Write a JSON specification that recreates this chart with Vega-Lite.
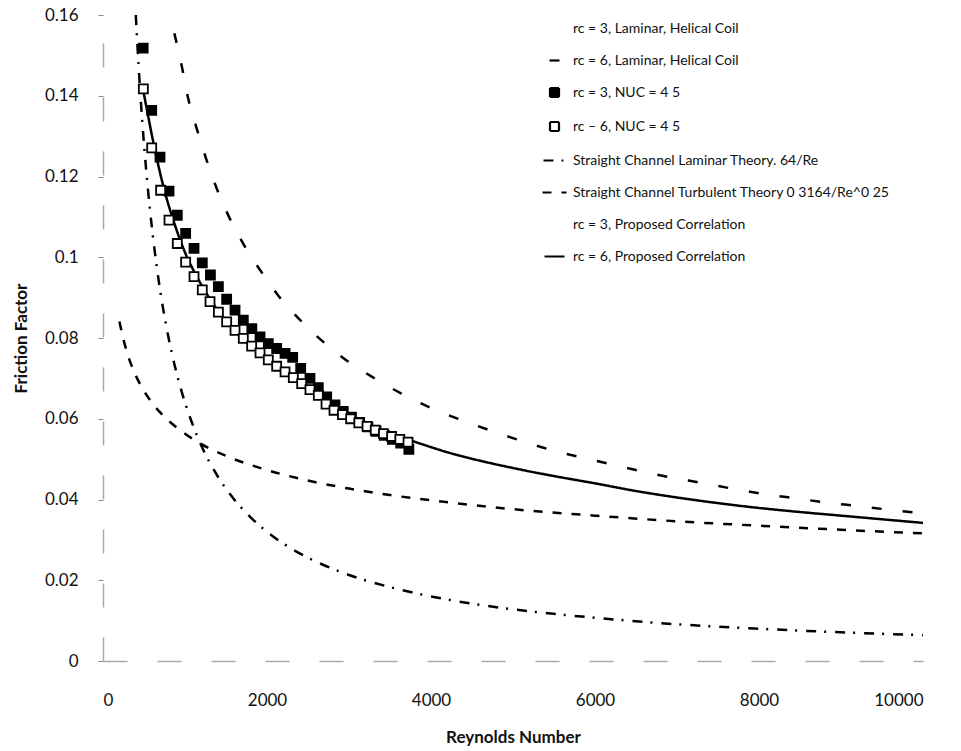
{
  "$schema": "https://vega.github.io/schema/vega-lite/v6.json",
  "width": 820,
  "height": 646,
  "autosize": "none",
  "padding": {"left": 103, "top": 15, "right": 38, "bottom": 90},
  "background": "white",
  "datasets": {
    "lines": [
      {"series": "rc = 6, Laminar, Helical Coil", "Re": 870, "f": 0.1555},
      {"series": "rc = 6, Laminar, Helical Coil", "Re": 964, "f": 0.147},
      {"series": "rc = 6, Laminar, Helical Coil", "Re": 1037, "f": 0.1395},
      {"series": "rc = 6, Laminar, Helical Coil", "Re": 1134, "f": 0.1325},
      {"series": "rc = 6, Laminar, Helical Coil", "Re": 1256, "f": 0.1245},
      {"series": "rc = 6, Laminar, Helical Coil", "Re": 1378, "f": 0.1175},
      {"series": "rc = 6, Laminar, Helical Coil", "Re": 1537, "f": 0.1100},
      {"series": "rc = 6, Laminar, Helical Coil", "Re": 1720, "f": 0.1030},
      {"series": "rc = 6, Laminar, Helical Coil", "Re": 1927, "f": 0.0965},
      {"series": "rc = 6, Laminar, Helical Coil", "Re": 2146, "f": 0.0903},
      {"series": "rc = 6, Laminar, Helical Coil", "Re": 2402, "f": 0.0845},
      {"series": "rc = 6, Laminar, Helical Coil", "Re": 2683, "f": 0.0791},
      {"series": "rc = 6, Laminar, Helical Coil", "Re": 2988, "f": 0.0742},
      {"series": "rc = 6, Laminar, Helical Coil", "Re": 3305, "f": 0.0701},
      {"series": "rc = 6, Laminar, Helical Coil", "Re": 3634, "f": 0.0663},
      {"series": "rc = 6, Laminar, Helical Coil", "Re": 3976, "f": 0.0629},
      {"series": "rc = 6, Laminar, Helical Coil", "Re": 4329, "f": 0.0600},
      {"series": "rc = 6, Laminar, Helical Coil", "Re": 4695, "f": 0.0573},
      {"series": "rc = 6, Laminar, Helical Coil", "Re": 5061, "f": 0.0548},
      {"series": "rc = 6, Laminar, Helical Coil", "Re": 5427, "f": 0.0525},
      {"series": "rc = 6, Laminar, Helical Coil", "Re": 5793, "f": 0.0506},
      {"series": "rc = 6, Laminar, Helical Coil", "Re": 6159, "f": 0.0489},
      {"series": "rc = 6, Laminar, Helical Coil", "Re": 6537, "f": 0.0471},
      {"series": "rc = 6, Laminar, Helical Coil", "Re": 6915, "f": 0.0455},
      {"series": "rc = 6, Laminar, Helical Coil", "Re": 7305, "f": 0.0441},
      {"series": "rc = 6, Laminar, Helical Coil", "Re": 7671, "f": 0.0427},
      {"series": "rc = 6, Laminar, Helical Coil", "Re": 8049, "f": 0.0414},
      {"series": "rc = 6, Laminar, Helical Coil", "Re": 8439, "f": 0.0403},
      {"series": "rc = 6, Laminar, Helical Coil", "Re": 8805, "f": 0.0393},
      {"series": "rc = 6, Laminar, Helical Coil", "Re": 9195, "f": 0.0384},
      {"series": "rc = 6, Laminar, Helical Coil", "Re": 9573, "f": 0.0375},
      {"series": "rc = 6, Laminar, Helical Coil", "Re": 10000, "f": 0.0366},

      {"series": "Straight Channel Laminar Theory. 64/Re", "Re": 400, "f": 0.16},
      {"series": "Straight Channel Laminar Theory. 64/Re", "Re": 420, "f": 0.1524},
      {"series": "Straight Channel Laminar Theory. 64/Re", "Re": 450, "f": 0.1422},
      {"series": "Straight Channel Laminar Theory. 64/Re", "Re": 480, "f": 0.1333},
      {"series": "Straight Channel Laminar Theory. 64/Re", "Re": 500, "f": 0.128},
      {"series": "Straight Channel Laminar Theory. 64/Re", "Re": 550, "f": 0.1164},
      {"series": "Straight Channel Laminar Theory. 64/Re", "Re": 600, "f": 0.1067},
      {"series": "Straight Channel Laminar Theory. 64/Re", "Re": 650, "f": 0.0985},
      {"series": "Straight Channel Laminar Theory. 64/Re", "Re": 700, "f": 0.0914},
      {"series": "Straight Channel Laminar Theory. 64/Re", "Re": 800, "f": 0.08},
      {"series": "Straight Channel Laminar Theory. 64/Re", "Re": 900, "f": 0.0711},
      {"series": "Straight Channel Laminar Theory. 64/Re", "Re": 1000, "f": 0.064},
      {"series": "Straight Channel Laminar Theory. 64/Re", "Re": 1100, "f": 0.0582},
      {"series": "Straight Channel Laminar Theory. 64/Re", "Re": 1200, "f": 0.0533},
      {"series": "Straight Channel Laminar Theory. 64/Re", "Re": 1400, "f": 0.0457},
      {"series": "Straight Channel Laminar Theory. 64/Re", "Re": 1600, "f": 0.04},
      {"series": "Straight Channel Laminar Theory. 64/Re", "Re": 1800, "f": 0.0356},
      {"series": "Straight Channel Laminar Theory. 64/Re", "Re": 2000, "f": 0.032},
      {"series": "Straight Channel Laminar Theory. 64/Re", "Re": 2300, "f": 0.0278},
      {"series": "Straight Channel Laminar Theory. 64/Re", "Re": 2600, "f": 0.0246},
      {"series": "Straight Channel Laminar Theory. 64/Re", "Re": 3000, "f": 0.0213},
      {"series": "Straight Channel Laminar Theory. 64/Re", "Re": 3500, "f": 0.0183},
      {"series": "Straight Channel Laminar Theory. 64/Re", "Re": 4000, "f": 0.016},
      {"series": "Straight Channel Laminar Theory. 64/Re", "Re": 4500, "f": 0.0142},
      {"series": "Straight Channel Laminar Theory. 64/Re", "Re": 5000, "f": 0.0128},
      {"series": "Straight Channel Laminar Theory. 64/Re", "Re": 6000, "f": 0.0107},
      {"series": "Straight Channel Laminar Theory. 64/Re", "Re": 7000, "f": 0.0091},
      {"series": "Straight Channel Laminar Theory. 64/Re", "Re": 8000, "f": 0.008},
      {"series": "Straight Channel Laminar Theory. 64/Re", "Re": 9000, "f": 0.0071},
      {"series": "Straight Channel Laminar Theory. 64/Re", "Re": 10000, "f": 0.0064},

      {"series": "Straight Channel Turbulent Theory 0 3164/Re^0 25", "Re": 200, "f": 0.0841},
      {"series": "Straight Channel Turbulent Theory 0 3164/Re^0 25", "Re": 250, "f": 0.0796},
      {"series": "Straight Channel Turbulent Theory 0 3164/Re^0 25", "Re": 300, "f": 0.0760},
      {"series": "Straight Channel Turbulent Theory 0 3164/Re^0 25", "Re": 400, "f": 0.0707},
      {"series": "Straight Channel Turbulent Theory 0 3164/Re^0 25", "Re": 500, "f": 0.0669},
      {"series": "Straight Channel Turbulent Theory 0 3164/Re^0 25", "Re": 600, "f": 0.0639},
      {"series": "Straight Channel Turbulent Theory 0 3164/Re^0 25", "Re": 700, "f": 0.0615},
      {"series": "Straight Channel Turbulent Theory 0 3164/Re^0 25", "Re": 800, "f": 0.0595},
      {"series": "Straight Channel Turbulent Theory 0 3164/Re^0 25", "Re": 1000, "f": 0.0563},
      {"series": "Straight Channel Turbulent Theory 0 3164/Re^0 25", "Re": 1200, "f": 0.0537},
      {"series": "Straight Channel Turbulent Theory 0 3164/Re^0 25", "Re": 1500, "f": 0.0508},
      {"series": "Straight Channel Turbulent Theory 0 3164/Re^0 25", "Re": 2000, "f": 0.0473},
      {"series": "Straight Channel Turbulent Theory 0 3164/Re^0 25", "Re": 2500, "f": 0.0447},
      {"series": "Straight Channel Turbulent Theory 0 3164/Re^0 25", "Re": 3000, "f": 0.0427},
      {"series": "Straight Channel Turbulent Theory 0 3164/Re^0 25", "Re": 3500, "f": 0.0411},
      {"series": "Straight Channel Turbulent Theory 0 3164/Re^0 25", "Re": 4000, "f": 0.0398},
      {"series": "Straight Channel Turbulent Theory 0 3164/Re^0 25", "Re": 5000, "f": 0.0376},
      {"series": "Straight Channel Turbulent Theory 0 3164/Re^0 25", "Re": 6000, "f": 0.0360},
      {"series": "Straight Channel Turbulent Theory 0 3164/Re^0 25", "Re": 7000, "f": 0.0346},
      {"series": "Straight Channel Turbulent Theory 0 3164/Re^0 25", "Re": 8000, "f": 0.0335},
      {"series": "Straight Channel Turbulent Theory 0 3164/Re^0 25", "Re": 9000, "f": 0.0325},
      {"series": "Straight Channel Turbulent Theory 0 3164/Re^0 25", "Re": 10000, "f": 0.0316},

      {"series": "rc = 6, Proposed Correlation", "Re": 490, "f": 0.1414},
      {"series": "rc = 6, Proposed Correlation", "Re": 550, "f": 0.1350},
      {"series": "rc = 6, Proposed Correlation", "Re": 650, "f": 0.1250},
      {"series": "rc = 6, Proposed Correlation", "Re": 750, "f": 0.1165},
      {"series": "rc = 6, Proposed Correlation", "Re": 880, "f": 0.1078},
      {"series": "rc = 6, Proposed Correlation", "Re": 1000, "f": 0.1012},
      {"series": "rc = 6, Proposed Correlation", "Re": 1150, "f": 0.0950},
      {"series": "rc = 6, Proposed Correlation", "Re": 1300, "f": 0.0898},
      {"series": "rc = 6, Proposed Correlation", "Re": 1500, "f": 0.0843},
      {"series": "rc = 6, Proposed Correlation", "Re": 1800, "f": 0.0782},
      {"series": "rc = 6, Proposed Correlation", "Re": 2000, "f": 0.0750},
      {"series": "rc = 6, Proposed Correlation", "Re": 2200, "f": 0.0722},
      {"series": "rc = 6, Proposed Correlation", "Re": 2400, "f": 0.0693},
      {"series": "rc = 6, Proposed Correlation", "Re": 2600, "f": 0.0665},
      {"series": "rc = 6, Proposed Correlation", "Re": 2800, "f": 0.0633},
      {"series": "rc = 6, Proposed Correlation", "Re": 3000, "f": 0.0608},
      {"series": "rc = 6, Proposed Correlation", "Re": 3300, "f": 0.0580},
      {"series": "rc = 6, Proposed Correlation", "Re": 3600, "f": 0.0556},
      {"series": "rc = 6, Proposed Correlation", "Re": 3800, "f": 0.0543},
      {"series": "rc = 6, Proposed Correlation", "Re": 4200, "f": 0.0517},
      {"series": "rc = 6, Proposed Correlation", "Re": 4600, "f": 0.0496},
      {"series": "rc = 6, Proposed Correlation", "Re": 5000, "f": 0.0478},
      {"series": "rc = 6, Proposed Correlation", "Re": 5500, "f": 0.0458},
      {"series": "rc = 6, Proposed Correlation", "Re": 6000, "f": 0.0440},
      {"series": "rc = 6, Proposed Correlation", "Re": 6500, "f": 0.0421},
      {"series": "rc = 6, Proposed Correlation", "Re": 7000, "f": 0.0405},
      {"series": "rc = 6, Proposed Correlation", "Re": 7500, "f": 0.0391},
      {"series": "rc = 6, Proposed Correlation", "Re": 8000, "f": 0.0379},
      {"series": "rc = 6, Proposed Correlation", "Re": 8500, "f": 0.0369},
      {"series": "rc = 6, Proposed Correlation", "Re": 9000, "f": 0.0360},
      {"series": "rc = 6, Proposed Correlation", "Re": 9500, "f": 0.0351},
      {"series": "rc = 6, Proposed Correlation", "Re": 10000, "f": 0.0342}
    ],
    "points": [
      {"series": "rc = 3, NUC = 4 5", "Re": 490, "f": 0.1518},
      {"series": "rc = 3, NUC = 4 5", "Re": 594, "f": 0.1364},
      {"series": "rc = 3, NUC = 4 5", "Re": 695, "f": 0.1248},
      {"series": "rc = 3, NUC = 4 5", "Re": 805, "f": 0.1164},
      {"series": "rc = 3, NUC = 4 5", "Re": 906, "f": 0.1104},
      {"series": "rc = 3, NUC = 4 5", "Re": 1008, "f": 0.1059},
      {"series": "rc = 3, NUC = 4 5", "Re": 1110, "f": 0.1022},
      {"series": "rc = 3, NUC = 4 5", "Re": 1211, "f": 0.0986},
      {"series": "rc = 3, NUC = 4 5", "Re": 1310, "f": 0.0956},
      {"series": "rc = 3, NUC = 4 5", "Re": 1407, "f": 0.0927},
      {"series": "rc = 3, NUC = 4 5", "Re": 1508, "f": 0.0896},
      {"series": "rc = 3, NUC = 4 5", "Re": 1610, "f": 0.0869},
      {"series": "rc = 3, NUC = 4 5", "Re": 1711, "f": 0.0844},
      {"series": "rc = 3, NUC = 4 5", "Re": 1815, "f": 0.0823},
      {"series": "rc = 3, NUC = 4 5", "Re": 1915, "f": 0.0803},
      {"series": "rc = 3, NUC = 4 5", "Re": 2016, "f": 0.0786},
      {"series": "rc = 3, NUC = 4 5", "Re": 2118, "f": 0.0774},
      {"series": "rc = 3, NUC = 4 5", "Re": 2220, "f": 0.0762},
      {"series": "rc = 3, NUC = 4 5", "Re": 2313, "f": 0.0752},
      {"series": "rc = 3, NUC = 4 5", "Re": 2411, "f": 0.0725},
      {"series": "rc = 3, NUC = 4 5", "Re": 2524, "f": 0.0700},
      {"series": "rc = 3, NUC = 4 5", "Re": 2626, "f": 0.0677},
      {"series": "rc = 3, NUC = 4 5", "Re": 2728, "f": 0.0654},
      {"series": "rc = 3, NUC = 4 5", "Re": 2829, "f": 0.0634},
      {"series": "rc = 3, NUC = 4 5", "Re": 2930, "f": 0.0618},
      {"series": "rc = 3, NUC = 4 5", "Re": 3030, "f": 0.0604},
      {"series": "rc = 3, NUC = 4 5", "Re": 3130, "f": 0.0591},
      {"series": "rc = 3, NUC = 4 5", "Re": 3230, "f": 0.0580},
      {"series": "rc = 3, NUC = 4 5", "Re": 3330, "f": 0.0569},
      {"series": "rc = 3, NUC = 4 5", "Re": 3430, "f": 0.0559},
      {"series": "rc = 3, NUC = 4 5", "Re": 3530, "f": 0.0549},
      {"series": "rc = 3, NUC = 4 5", "Re": 3630, "f": 0.0540},
      {"series": "rc = 3, NUC = 4 5", "Re": 3730, "f": 0.0524},

      {"series": "rc – 6, NUC = 4 5", "Re": 492, "f": 0.1417},
      {"series": "rc – 6, NUC = 4 5", "Re": 594, "f": 0.1271},
      {"series": "rc – 6, NUC = 4 5", "Re": 703, "f": 0.1166},
      {"series": "rc – 6, NUC = 4 5", "Re": 805, "f": 0.1092},
      {"series": "rc – 6, NUC = 4 5", "Re": 906, "f": 0.1034},
      {"series": "rc – 6, NUC = 4 5", "Re": 1008, "f": 0.0988},
      {"series": "rc – 6, NUC = 4 5", "Re": 1110, "f": 0.0952},
      {"series": "rc – 6, NUC = 4 5", "Re": 1211, "f": 0.0919},
      {"series": "rc – 6, NUC = 4 5", "Re": 1305, "f": 0.0890},
      {"series": "rc – 6, NUC = 4 5", "Re": 1407, "f": 0.0864},
      {"series": "rc – 6, NUC = 4 5", "Re": 1508, "f": 0.0840},
      {"series": "rc – 6, NUC = 4 5", "Re": 1610, "f": 0.0819},
      {"series": "rc – 6, NUC = 4 5", "Re": 1711, "f": 0.0799},
      {"series": "rc – 6, NUC = 4 5", "Re": 1813, "f": 0.0780},
      {"series": "rc – 6, NUC = 4 5", "Re": 1915, "f": 0.0763},
      {"series": "rc – 6, NUC = 4 5", "Re": 2016, "f": 0.0746},
      {"series": "rc – 6, NUC = 4 5", "Re": 2118, "f": 0.0730},
      {"series": "rc – 6, NUC = 4 5", "Re": 2220, "f": 0.0716},
      {"series": "rc – 6, NUC = 4 5", "Re": 2321, "f": 0.0702},
      {"series": "rc – 6, NUC = 4 5", "Re": 2423, "f": 0.0687},
      {"series": "rc – 6, NUC = 4 5", "Re": 2524, "f": 0.0672},
      {"series": "rc – 6, NUC = 4 5", "Re": 2626, "f": 0.0658},
      {"series": "rc – 6, NUC = 4 5", "Re": 2720, "f": 0.0636},
      {"series": "rc – 6, NUC = 4 5", "Re": 2817, "f": 0.0621},
      {"series": "rc – 6, NUC = 4 5", "Re": 2920, "f": 0.0610},
      {"series": "rc – 6, NUC = 4 5", "Re": 3020, "f": 0.0600},
      {"series": "rc – 6, NUC = 4 5", "Re": 3120, "f": 0.0590},
      {"series": "rc – 6, NUC = 4 5", "Re": 3220, "f": 0.0581},
      {"series": "rc – 6, NUC = 4 5", "Re": 3320, "f": 0.0572},
      {"series": "rc – 6, NUC = 4 5", "Re": 3420, "f": 0.0563},
      {"series": "rc – 6, NUC = 4 5", "Re": 3520, "f": 0.0556},
      {"series": "rc – 6, NUC = 4 5", "Re": 3620, "f": 0.0549},
      {"series": "rc – 6, NUC = 4 5", "Re": 3720, "f": 0.0542}
    ]
  },
  "layer": [
    {
      "data": {"name": "lines"},
      "mark": {"type": "line", "strokeWidth": 2.5, "interpolate": "monotone"},
      "encoding": {
        "x": {"field": "Re", "type": "quantitative", "title": "Reynolds Number", "scale": {"domain": [0, 10000], "nice": false}, "axis": {"values": [0, 2000, 4000, 6000, 8000, 10000], "format": "d"}},
        "y": {"field": "f", "type": "quantitative", "title": "Friction Factor", "scale": {"domain": [0, 0.16], "nice": false}, "axis": {"values": [0, 0.02, 0.04, 0.06, 0.08, 0.1, 0.12, 0.14, 0.16], "format": "~g"}},
        "stroke": {
          "field": "series", "type": "nominal", "title": null,
          "scale": {
            "domain": ["rc = 3, Laminar, Helical Coil", "rc = 6, Laminar, Helical Coil", "rc = 3, NUC = 4 5", "rc – 6, NUC = 4 5", "Straight Channel Laminar Theory. 64/Re", "Straight Channel Turbulent Theory 0 3164/Re^0 25", "rc = 3, Proposed Correlation", "rc = 6, Proposed Correlation"],
            "range": ["black", "black", "black", "black", "black", "black", "black", "black"]
          },
          "legend": {"orient": "none", "legendX": 440, "legendY": 2}
        },
        "strokeDash": {
          "field": "series", "type": "nominal", "title": null,
          "scale": {
            "domain": ["rc = 3, Laminar, Helical Coil", "rc = 6, Laminar, Helical Coil", "rc = 3, NUC = 4 5", "rc – 6, NUC = 4 5", "Straight Channel Laminar Theory. 64/Re", "Straight Channel Turbulent Theory 0 3164/Re^0 25", "rc = 3, Proposed Correlation", "rc = 6, Proposed Correlation"],
            "range": [[1, 0], [10, 21], [1, 0], [1, 0], [10, 8, 2, 9], [9, 10], [1, 0], [1, 0]]
          },
          "legend": {"orient": "none", "legendX": 440, "legendY": 2}
        }
      }
    },
    {
      "data": {"name": "points"},
      "mark": {"type": "point", "size": 400, "strokeWidth": 1.8, "opacity": 1},
      "encoding": {
        "x": {"field": "Re", "type": "quantitative"},
        "y": {"field": "f", "type": "quantitative"},
        "stroke": {"field": "series", "type": "nominal", "title": null, "legend": {"orient": "none", "legendX": 440, "legendY": 2}},
        "shape": {
          "field": "series", "type": "nominal", "title": null,
          "scale": {
            "domain": ["rc = 3, Laminar, Helical Coil", "rc = 6, Laminar, Helical Coil", "rc = 3, NUC = 4 5", "rc – 6, NUC = 4 5", "Straight Channel Laminar Theory. 64/Re", "Straight Channel Turbulent Theory 0 3164/Re^0 25", "rc = 3, Proposed Correlation", "rc = 6, Proposed Correlation"],
            "range": ["M0,0", "M-0.5,0H0.5", "M-0.45,-0.45H0.45V0.45H-0.45Z", "M-0.45,-0.45H0.45V0.45H-0.45Z", "M-1.1,0H1.1", "M-1.2,0H1.2", "M0,0", "M-1,0H1"]
          },
          "legend": {"orient": "none", "legendX": 440, "legendY": 2}
        },
        "fill": {
          "field": "series", "type": "nominal", "title": null,
          "scale": {
            "domain": ["rc = 3, Laminar, Helical Coil", "rc = 6, Laminar, Helical Coil", "rc = 3, NUC = 4 5", "rc – 6, NUC = 4 5", "Straight Channel Laminar Theory. 64/Re", "Straight Channel Turbulent Theory 0 3164/Re^0 25", "rc = 3, Proposed Correlation", "rc = 6, Proposed Correlation"],
            "range": ["transparent", "transparent", "black", "white", "transparent", "transparent", "transparent", "transparent"]
          },
          "legend": {"orient": "none", "legendX": 440, "legendY": 2}
        }
      }
    }
  ],
  "config": {
    "view": {"stroke": null},
    "axis": {"grid": false, "labelFont": "Lato", "labelFontSize": 17, "labelColor": "#111", "titleFont": "Lato", "titleFontSize": 17, "titleFontWeight": "bold", "titleColor": "#111", "domainColor": "#aaa", "domainWidth": 1.5, "domainDash": [24, 30]},
    "axisX": {"ticks": false, "labelPadding": 31, "titlePadding": 21},
    "axisY": {"ticks": true, "tickSize": 5, "tickColor": "#888", "labelPadding": 20, "titlePadding": 14},
    "legend": {"padding": 0, "rowPadding": 13, "labelOffset": 7, "symbolSize": 400, "symbolStrokeWidth": 2.2, "symbolStrokeColor": "black", "labelFont": "Lato", "labelFontSize": 14, "labelColor": "#111", "labelLimit": 400}
  }
}
